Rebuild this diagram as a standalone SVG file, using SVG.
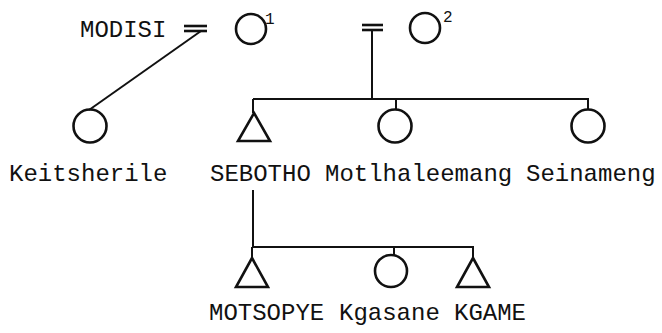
<svg xmlns="http://www.w3.org/2000/svg" width="662" height="333" viewBox="0 0 662 333">
<style>
.lbl{font-family:"Liberation Mono","DejaVu Sans Mono",monospace;font-size:24px;fill:#111}
.sup{font-family:"Liberation Mono","DejaVu Sans Mono",monospace;font-size:16px;fill:#111}
.shape{fill:none;stroke:#111;stroke-width:2.6}
.ln{fill:none;stroke:#111;stroke-width:2}
.eq{stroke:#111;stroke-width:2.6}
</style>
<rect width="662" height="333" fill="#fff"/>
<g id="connectors">
  <line class="ln" x1="201" y1="31" x2="89" y2="110"/>
  <line class="ln" x1="372" y1="30" x2="372" y2="99"/>
  <line class="ln" x1="253" y1="99" x2="589" y2="99"/>
  <line class="ln" x1="253" y1="99" x2="253" y2="113"/>
  <line class="ln" x1="396" y1="99" x2="396" y2="110"/>
  <line class="ln" x1="588" y1="99" x2="588" y2="110"/>
  <line class="ln" x1="253" y1="190" x2="253" y2="247"/>
  <line class="ln" x1="252" y1="247" x2="474" y2="247"/>
  <line class="ln" x1="252" y1="247" x2="252" y2="258"/>
  <line class="ln" x1="394" y1="247" x2="394" y2="255"/>
  <line class="ln" x1="473" y1="247" x2="473" y2="258"/>
</g>
<g id="modisi">
  <text class="lbl" x="80" y="37">MODISI</text>
  <line class="eq" x1="184" y1="26" x2="207" y2="26"/>
  <line class="eq" x1="184" y1="31" x2="207" y2="31"/>
</g>
<g id="wife1">
  <circle class="shape" cx="251" cy="29" r="15"/>
  <text class="sup" x="265" y="24">1</text>
</g>
<g id="marriage2">
  <line class="eq" x1="362" y1="25" x2="383" y2="25"/>
  <line class="eq" x1="362" y1="30" x2="383" y2="30"/>
</g>
<g id="wife2">
  <circle class="shape" cx="425" cy="28" r="15"/>
  <text class="sup" x="443" y="22">2</text>
</g>
<g id="keitsherile">
  <circle class="shape" cx="90" cy="126" r="16.5"/>
  <text class="lbl" x="9" y="181">Keitsherile</text>
</g>
<g id="sebotho">
  <polygon class="shape" points="254,113 270,141 238,141"/>
  <text class="lbl" x="210" y="181">SEBOTHO</text>
</g>
<g id="motlhaleemang">
  <circle class="shape" cx="395" cy="126" r="16.5"/>
  <text class="lbl" x="325" y="181">Motlhaleemang</text>
</g>
<g id="seinameng">
  <circle class="shape" cx="588" cy="126" r="16.5"/>
  <text class="lbl" x="526" y="181">Seinameng</text>
</g>
<g id="motsopye">
  <polygon class="shape" points="252,258 268,287 236,287"/>
  <text class="lbl" x="209" y="320">MOTSOPYE</text>
</g>
<g id="kgasane">
  <circle class="shape" cx="391" cy="271" r="16"/>
  <text class="lbl" x="339" y="320">Kgasane</text>
</g>
<g id="kgame">
  <polygon class="shape" points="473,258 489,287 457,287"/>
  <text class="lbl" x="454" y="320">KGAME</text>
</g>
</svg>
